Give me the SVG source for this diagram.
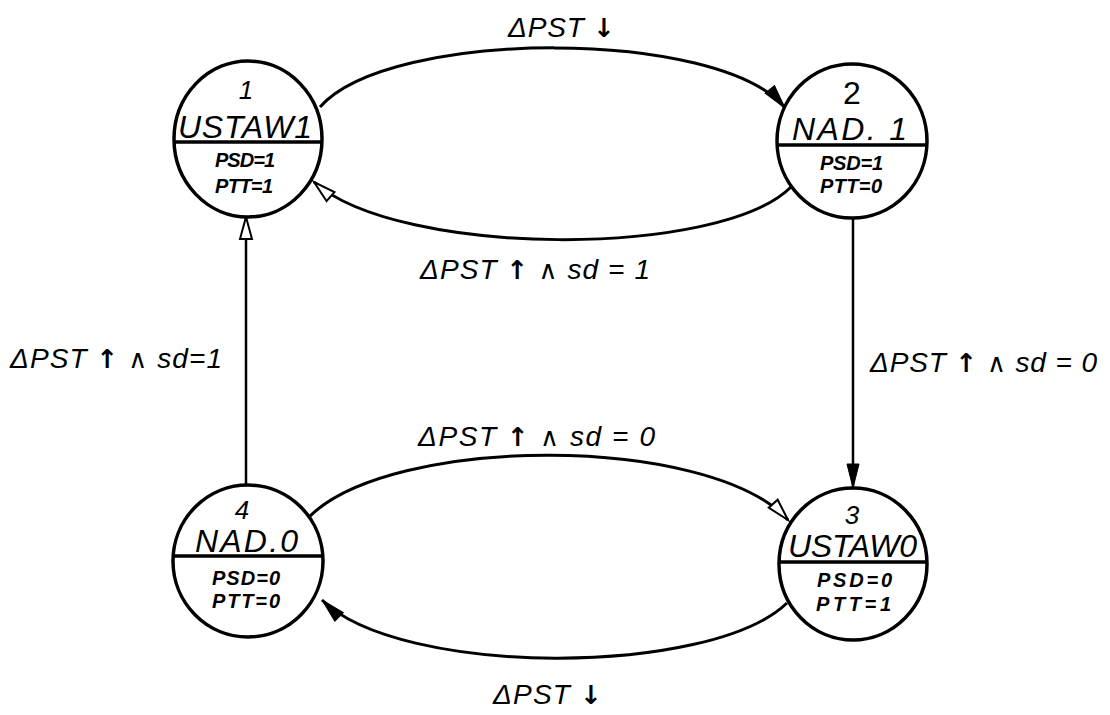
<svg xmlns="http://www.w3.org/2000/svg" width="1110" height="715" viewBox="0 0 1110 715">
<style>
  .circ{fill:#fff;stroke:#000;stroke-width:3.5}
  .div{stroke:#000;stroke-width:3.5}
  .edge{fill:none;stroke:#000;stroke-width:3}
  .vline{fill:none;stroke:#000;stroke-width:2.5}
  .num{font-family:"Liberation Sans","DejaVu Sans",sans-serif;font-style:italic;font-size:26px;fill:#000}
  .name{font-family:"Liberation Sans","DejaVu Sans",sans-serif;font-style:italic;font-size:32px;fill:#000}
  .var{font-family:"Liberation Sans","DejaVu Sans",sans-serif;font-style:italic;font-weight:bold;font-size:20px;fill:#000}
  .lbl{font-family:"Liberation Sans","DejaVu Sans",sans-serif;font-style:italic;font-size:28px;fill:#000}
  .ar{font-family:"DejaVu Sans",sans-serif;font-style:normal;font-weight:bold;font-size:26px;fill:#000}
  .and{font-family:"DejaVu Sans",sans-serif;font-style:normal;font-size:26px;fill:#000}
</style>
<defs>
  <marker id="arrF" markerUnits="userSpaceOnUse" markerWidth="30" markerHeight="16" refX="24" refY="6" orient="auto" overflow="visible">
    <path d="M0,0 L24,6 L0,12 z" fill="#000" stroke="#000" stroke-width="1"/>
  </marker>
  <marker id="arrH" markerUnits="userSpaceOnUse" markerWidth="30" markerHeight="16" refX="22" refY="6" orient="auto" overflow="visible">
    <path d="M0,0 L22,6 L0,12 z" fill="#fff" stroke="#000" stroke-width="2"/>
  </marker>
</defs>
<rect width="1110" height="715" fill="#fff"/>
<g id="connectors">
  <path id="e12" class="edge" d="M320,107 C390,28 720,28 785,108" marker-end="url(#arrF)"/>
  <path id="e21" class="edge" d="M791,187 C720,258 400,258 314,182" marker-end="url(#arrH)"/>
  <path id="e23" class="vline" d="M853,218 L853,488" marker-end="url(#arrF)"/>
  <path id="e41" class="vline" d="M246,485 L246,217" marker-end="url(#arrH)"/>
  <path id="e43" class="edge" d="M308,518 C390,434 710,434 788,520" marker-end="url(#arrH)"/>
  <path id="e34" class="edge" d="M787,603 C710,677 400,677 322,600" marker-end="url(#arrF)"/>
</g>
<g id="labels">
  <text class="lbl" x="508" y="37" textLength="107">ΔPST <tspan class="ar">↓</tspan></text>
  <text class="lbl" x="420" y="279" textLength="230">ΔPST <tspan class="ar">↑</tspan> <tspan class="and">∧</tspan> sd = 1</text>
  <text class="lbl" x="10" y="368" textLength="212">ΔPST <tspan class="ar">↑</tspan> <tspan class="and">∧</tspan> sd=1</text>
  <text class="lbl" x="870" y="372" textLength="227">ΔPST <tspan class="ar">↑</tspan> <tspan class="and">∧</tspan> sd = 0</text>
  <text class="lbl" x="418" y="446" textLength="237">ΔPST <tspan class="ar">↑</tspan> <tspan class="and">∧</tspan> sd = 0</text>
  <text class="lbl" x="493" y="704" textLength="109">ΔPST <tspan class="ar">↓</tspan></text>
</g>
<g id="node1">
  <ellipse class="circ" cx="248" cy="139" rx="74" ry="78"/>
  <line class="div" x1="175" y1="142" x2="321" y2="142"/>
  <text class="num" x="246" y="99" text-anchor="middle">1</text>
  <text class="name" x="178" y="138" textLength="134">USTAW1</text>
  <text class="var" x="215" y="167" textLength="60">PSD=1</text>
  <text class="var" x="215" y="193" textLength="58">PTT=1</text>
</g>
<g id="node2">
  <ellipse class="circ" cx="852" cy="141" rx="75" ry="77"/>
  <line class="div" x1="778" y1="145" x2="926" y2="145"/>
  <text class="num" x="852" y="104" text-anchor="middle" style="font-style:normal;font-size:32px">2</text>
  <text class="name" x="792" y="140" textLength="115">NAD. 1</text>
  <text class="var" x="820" y="170" textLength="63">PSD=1</text>
  <text class="var" x="820" y="193" textLength="62">PTT=0</text>
</g>
<g id="node3">
  <ellipse class="circ" cx="853" cy="564" rx="74" ry="76"/>
  <line class="div" x1="780" y1="562" x2="926" y2="562"/>
  <text class="num" x="852" y="524" text-anchor="middle">3</text>
  <text class="name" x="788" y="557" textLength="129">USTAW0</text>
  <text class="var" x="817" y="587" textLength="75">PSD=0</text>
  <text class="var" x="816" y="611" textLength="75">PTT=1</text>
</g>
<g id="node4">
  <ellipse class="circ" cx="248" cy="561" rx="75" ry="76"/>
  <line class="div" x1="174" y1="556" x2="322" y2="556"/>
  <text class="num" x="242" y="519" text-anchor="middle">4</text>
  <text class="name" x="195" y="552" textLength="103">NAD.0</text>
  <text class="var" x="212" y="585" textLength="68">PSD=0</text>
  <text class="var" x="212" y="608" textLength="68">PTT=0</text>
</g>
</svg>
